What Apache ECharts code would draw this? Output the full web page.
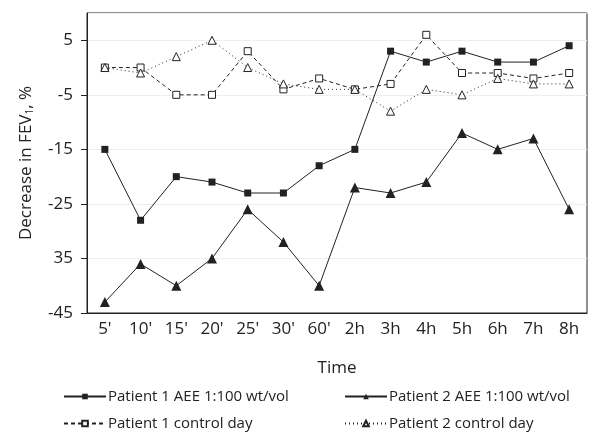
<!DOCTYPE html>
<html>
<head>
<meta charset="utf-8">
<script src="https://cdn.jsdelivr.net/npm/echarts@6/dist/echarts.min.js"></script>
<style>
  html, body { margin: 0; padding: 0; background: #fff; }
  #chart { width: 603px; height: 435px; }
</style>
</head>
<body>
<div id="chart"></div>
<script>
var timePoints = ["5'", "10'", "15'", "20'", "25'", "30'", "60'", '2h', '3h', '4h', '5h', '6h', '7h', '8h'];
var yTickLabels = ['-45', '35', '-25', '-15', '-5', '5'];

var p1Aee = [-15, -28, -20, -21, -23, -23, -18, -15, 3, 1, 3, 1, 1, 4];
var p2Aee = [-43, -36, -40, -35, -26, -32, -40, -22, -23, -21, -12, -15, -13, -26];
var p1Control = [0, 0, -5, -5, 3, -4, -2, -4, -3, 6, -1, -1, -2, -1];
var p2Control = [0, -1, 2, 5, 0, -3, -4, -4, -8, -4, -5, -2, -3, -3];

var names = [
    'Patient 1 AEE 1:100 wt/vol',
    'Patient 2 AEE 1:100 wt/vol',
    'Patient 1 control day',
    'Patient 2 control day'
];

var font = 'Open Sans';
var ink = '#222';

var chart = echarts.init(document.getElementById('chart'));

function legendAt(name, left, top) {
    return {
        data: [name],
        left: left,
        top: top,
        itemWidth: 42,
        itemHeight: 7,
        itemGap: 0,
        textStyle: { fontFamily: font, fontSize: 15, color: ink, padding: [0, 0, 0, -3] }
    };
}

var option = {
    animation: false,
    backgroundColor: '#fff',
    grid: {
        left: 87, right: 16, top: 13, bottom: 122,
        show: true, borderColor: ink, borderWidth: 1
    },
    legend: [
        legendAt(names[0], 58, 384),
        legendAt(names[1], 339, 384),
        legendAt(names[2], 58, 411),
        legendAt(names[3], 339, 411)
    ],
    xAxis: {
        type: 'category',
        data: timePoints,
        name: 'Time',
        nameLocation: 'middle',
        nameGap: 47,
        nameTextStyle: { fontFamily: font, fontSize: 17, color: ink },
        axisLine: { onZero: false, lineStyle: { color: ink } },
        axisTick: { length: 5, lineStyle: { color: ink } },
        axisLabel: { fontFamily: font, fontSize: 17, color: ink, margin: 8 },
        splitLine: { show: false }
    },
    yAxis: {
        type: 'value',
        min: -45,
        max: 10,
        interval: 10,
        name: 'Decrease in FEV{sub|1}, %',
        nameLocation: 'middle',
        nameRotate: 90,
        nameGap: 52,
        nameTextStyle: {
            fontFamily: font, fontSize: 17, color: ink,
            rich: { sub: { fontFamily: font, fontSize: 10, color: ink, verticalAlign: 'bottom', padding: [7, 0, 0, 0] } }
        },
        axisLine: { show: true, onZero: false, lineStyle: { color: ink } },
        axisTick: { show: true, length: 6, lineStyle: { color: ink } },
        axisLabel: {
            fontFamily: font, fontSize: 17, color: ink, margin: 14, showMaxLabel: false,
            formatter: function (v) {
                var i = Math.round((v + 45) / 10);
                return (v + 45) % 10 === 0 && yTickLabels[i] !== undefined ? yTickLabels[i] : '';
            }
        },
        splitLine: { show: true, lineStyle: { color: '#eeeeee' } }
    },
    series: [
        {
            name: names[0], type: 'line', data: p1Aee,
            symbol: 'rect', symbolSize: 7,
            lineStyle: { color: ink, width: 1 },
            itemStyle: { color: ink }
        },
        {
            name: names[1], type: 'line', data: p2Aee,
            symbol: 'triangle', symbolSize: 10,
            lineStyle: { color: ink, width: 1 },
            itemStyle: { color: ink }
        },
        {
            name: names[2], type: 'line', data: p1Control,
            symbol: 'rect', symbolSize: 7,
            lineStyle: { color: ink, width: 1, type: [4, 3] },
            itemStyle: { color: '#fff', borderColor: ink, borderWidth: 1 }
        },
        {
            name: names[3], type: 'line', data: p2Control,
            symbol: 'triangle', symbolSize: 8,
            lineStyle: { color: ink, width: 1, type: [1, 3] },
            itemStyle: { color: '#fff', borderColor: ink, borderWidth: 1 }
        }
    ]
};

chart.setOption(option);
</script>
</body>
</html>
